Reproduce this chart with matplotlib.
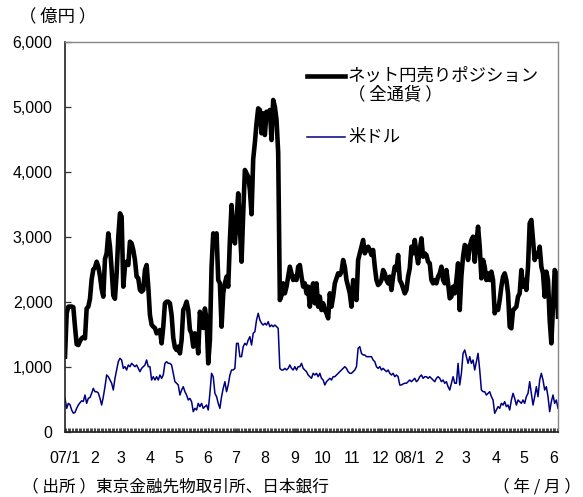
import pandas as pd
import matplotlib.pyplot as plt
from matplotlib.ticker import FuncFormatter

plt.rcParams['font.family'] = ['Noto Sans CJK JP', 'DejaVu Sans']

# net yen-selling position, all currencies (100 mil. yen)
net_yen = [
    1159, 1825, 1928, 1930, 1930, 1920, 1620, 1350, 1338, 1400, 1440, 1460, 1441, 1900, 1928,
    2050, 2350, 2500, 2530, 2620, 2543, 2400, 2200, 2082, 2660, 2750, 3056, 2850, 2500, 2100,
    2050, 2441, 3005, 3364, 3313, 2236, 2543, 2620, 2569, 2928, 2902, 2800, 2646, 2390, 2364,
    2185, 2159, 2185, 2492, 2569, 2236, 1800, 1650, 1620, 1600, 1518, 1540,
    1569, 1364, 1620, 1980, 2005, 2005, 1980, 1800, 1450, 1300, 1262, 1313, 1210, 1415, 1877,
    1928, 2005, 1877, 1569, 1518, 1313, 1518, 1467, 1210, 1850, 1650, 1600, 1900, 1720, 1056,
    1415, 2543, 3056, 3005, 3056, 2338, 2287, 1620, 2133, 2287, 2390, 2236, 2954, 3492, 3056,
    2902, 3262, 3672, 3159, 2620, 3364, 4031, 3980, 3928, 3723, 3350, 4200, 4450, 4750, 4979,
    4954, 4595, 4903, 4569, 4928, 4851, 4954, 4492, 5108, 5005, 4800, 4300, 2030, 2100, 2287,
    2133, 2236, 2390, 2543, 2441, 2338, 2390, 2338, 2543, 2569, 2390, 2236, 2287, 2133, 2236,
    1928, 2185, 2287, 1980, 2287, 1928, 2082, 1877, 1980, 1877, 1826, 1749, 2133, 1928, 2082,
    2287, 2364, 2441, 2415, 2467, 2646, 2543, 2338, 2236, 2133, 1928, 2338, 2236, 2030, 2646,
    2749, 2851, 2954, 2749, 2800, 2851, 2800, 2723, 2800, 2543, 2338, 2261, 2287, 2338, 2492,
    2441, 2338, 2287, 2390, 2185, 2390, 2543, 2492, 2723, 2338, 2287, 2210, 2133, 2185, 2390,
    2518, 2851, 2749, 2954, 2749, 2595, 2800, 2979, 2697, 2749, 2723, 2620, 2595, 2338, 2287,
    2338, 2287, 2390, 2441, 2543, 2338, 2287, 2492, 2287, 2056, 2082, 2236, 2133, 2338, 2595,
    1877, 2400, 2697, 2877, 2851, 2646, 2851, 2954, 3005, 2620, 2900, 3159, 2851, 2364, 2646,
    2543, 2338, 2441, 2338, 2467, 2338, 1826, 1928, 1877, 2030, 2236, 2390, 2441, 2338, 2133,
    1620, 1595, 1877, 1900, 1928, 2082, 2133, 2492, 2236, 2338, 2185, 2543, 3210, 3262, 2954,
    2646, 2749, 2697, 2851, 2543, 2441, 2082, 2467, 2338, 1723, 1364, 1928, 2492, 2441, 1774,
]

# US dollar
usd = [
    518, 364, 441, 420, 338, 290, 300, 364, 415, 450, 480, 470, 569, 441, 518,
    530, 595, 672, 620, 620, 600, 518, 415, 540, 697, 877, 851, 800, 750, 646,
    826, 954, 1082, 1133, 1108, 979, 1005, 954, 1031, 1005, 1056, 1031, 1005, 1031, 979,
    928, 979, 1005, 1031, 1108, 1005, 1005, 800, 851, 800, 851, 800,
    877, 826, 877, 1056, 1082, 1056, 1056, 1031, 903, 774, 750, 723, 569, 646, 697,
    620, 569, 492, 518, 467, 313, 364, 338, 441, 390, 441, 364, 390, 415, 338,
    595, 903, 851, 595, 544, 441, 364, 544, 672, 774, 620, 723, 877, 954, 954,
    979, 1364, 1364, 1159, 1159, 1313, 1364, 1338, 1415, 1467, 1338, 1518, 1543, 1723, 1826,
    1723, 1672, 1646, 1672, 1646, 1697, 1620, 1646, 1620, 1646, 1620, 1595, 979, 954, 954,
    979, 954, 979, 1031, 979, 954, 1005, 954, 1005, 1005, 1056, 979, 954, 928, 877,
    851, 826, 903, 877, 903, 851, 903, 826, 800, 723, 774, 800, 826, 800, 851,
    851, 877, 903, 928, 954, 979, 1005, 979, 928, 903, 903, 928, 954, 1005, 1287,
    1313, 1210, 1185, 1185, 1159, 1159, 1159, 1159, 1108, 1082, 1005, 979, 1005, 954, 979,
    954, 928, 954, 903, 877, 903, 851, 877, 851, 723, 723, 740, 750, 750, 774,
    800, 774, 800, 826, 774, 800, 851, 877, 826, 851, 851, 826, 851, 826, 800,
    774, 826, 851, 826, 774, 800, 750, 774, 697, 646, 750, 851, 750, 750, 1056,
    723, 903, 1210, 1262, 1159, 1056, 1159, 1056, 1108, 954, 1082, 1210, 954, 646, 620,
    620, 569, 595, 620, 544, 492, 287, 338, 390, 364, 441, 415, 467, 390, 415,
    338, 492, 595, 518, 415, 492, 467, 441, 492, 441, 544, 595, 774, 595, 415,
    544, 697, 544, 800, 903, 800, 646, 697, 544, 313, 467, 569, 441, 492, 364,
]

start, end = '2007-01-04', '2008-06-09'
month_ticks = ['2007-01-04', '2007-02-04', '2007-03-04', '2007-04-04', '2007-05-04',
               '2007-06-04', '2007-07-04', '2007-08-04', '2007-09-04', '2007-10-04',
               '2007-11-04', '2007-12-04', '2008-01-04', '2008-02-04', '2008-03-04',
               '2008-04-04', '2008-05-04', '2008-06-04']
month_labels = ['07/1', '2', '3', '4', '5', '6', '7', '8', '9', '10', '11', '12',
                '08/1', '2', '3', '4', '5', '6']

dates = pd.date_range(start, end, periods=len(net_yen))

fig = plt.figure(figsize=(5.83, 4.97), dpi=100)
ax = fig.add_axes([65 / 583, 65 / 497, 493 / 583, 390 / 497])

ax.plot(dates, net_yen, color='black', lw=3.3, solid_joinstyle='round')
ax.plot(dates, usd, color='#000080', lw=1.1)

ax.set_xlim(pd.Timestamp(start), pd.Timestamp(end))
ax.set_ylim(0, 6000)
ax.set_yticks(range(0, 6001, 1000))
ax.yaxis.set_major_formatter(FuncFormatter(lambda v, p: f'{int(v):,}'))

ax.set_xticks(pd.to_datetime(month_ticks))
ax.set_xticklabels(month_labels)
ax.set_xticks(pd.date_range(start, end, periods=360), minor=True)

for lab in ax.get_xticklabels() + ax.get_yticklabels():
    lab.set_fontfamily(['Liberation Sans', 'DejaVu Sans'])
    lab.set_fontsize(11.5)

ax.tick_params(axis='y', direction='in', length=4, width=0.9, color='#333333', pad=9)
ax.tick_params(axis='x', which='major', direction='in', length=3, width=0.8,
               color='#444444', pad=14)
ax.tick_params(axis='x', which='minor', direction='in', length=3, width=0.7,
               color='#444444')

for side in ['top', 'right']:
    ax.spines[side].set_color('#888888')
    ax.spines[side].set_linewidth(1.0)
for side in ['left', 'bottom']:
    ax.spines[side].set_color('#222222')
    ax.spines[side].set_linewidth(1.2)

# legend drawn by hand
ax.plot([0.491, 0.568], [0.913, 0.913], transform=ax.transAxes, color='black', lw=3.3)
ax.text(0.574, 0.913, 'ネット円売りポジション', transform=ax.transAxes,
        fontsize=12.5, va='center', ha='left')
ax.text(0.574, 0.866, '（ 全通貨 ）', transform=ax.transAxes,
        fontsize=12.5, va='center', ha='left')
ax.plot([0.491, 0.568], [0.757, 0.757], transform=ax.transAxes, color='#000080', lw=1.1)
ax.text(0.574, 0.757, '米ドル', transform=ax.transAxes,
        fontsize=12.5, va='center', ha='left')

fig.text(19 / 583, 1 - 16 / 497, '（ 億円 ）', fontsize=12.5, va='center', ha='left')
fig.text(22 / 583, 1 - 487 / 497, '（ 出所 ）東京金融先物取引所、日本銀行',
         fontsize=12, va='center', ha='left')
fig.text(581 / 583, 1 - 487 / 497, '（ 年 / 月 ）', fontsize=12, va='center', ha='right')

fig.savefig('out.png', dpi=100)
